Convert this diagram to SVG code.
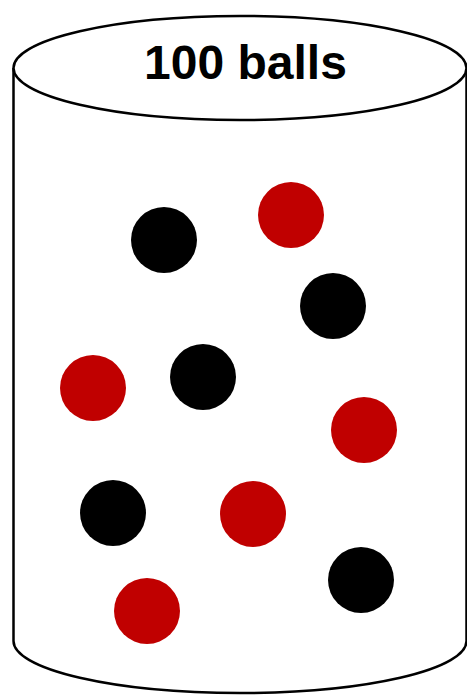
<svg xmlns="http://www.w3.org/2000/svg" width="467" height="695" viewBox="0 0 467 695">
<style>
.line{fill:#fff;stroke:#000;stroke-width:2.5}
.red{fill:#c00000}
.black{fill:#000}
.label{font-family:"Liberation Sans",Arial,sans-serif;font-weight:bold;font-size:48px;text-anchor:middle}
</style>
<rect width="467" height="695" fill="#fff"/>
<g id="cylinder">
<path class="line" d="M13.5,68 L13.5,641 A226.5,52 0 0 0 466.5,641 L466.5,68"/>
<ellipse class="line" cx="240" cy="68" rx="226.5" ry="52"/>
<text class="label" x="245.5" y="79">100 balls</text>
</g>
<g id="balls">
<circle class="black" cx="164" cy="240" r="33"/>
<circle class="red" cx="291" cy="215" r="33"/>
<circle class="black" cx="333" cy="306" r="33"/>
<circle class="red" cx="93" cy="388" r="33"/>
<circle class="black" cx="203" cy="377" r="33"/>
<circle class="red" cx="364" cy="430" r="33"/>
<circle class="black" cx="113" cy="513" r="33"/>
<circle class="red" cx="253" cy="514" r="33"/>
<circle class="black" cx="361" cy="580" r="33"/>
<circle class="red" cx="147" cy="611" r="33"/>
</g>
</svg>
